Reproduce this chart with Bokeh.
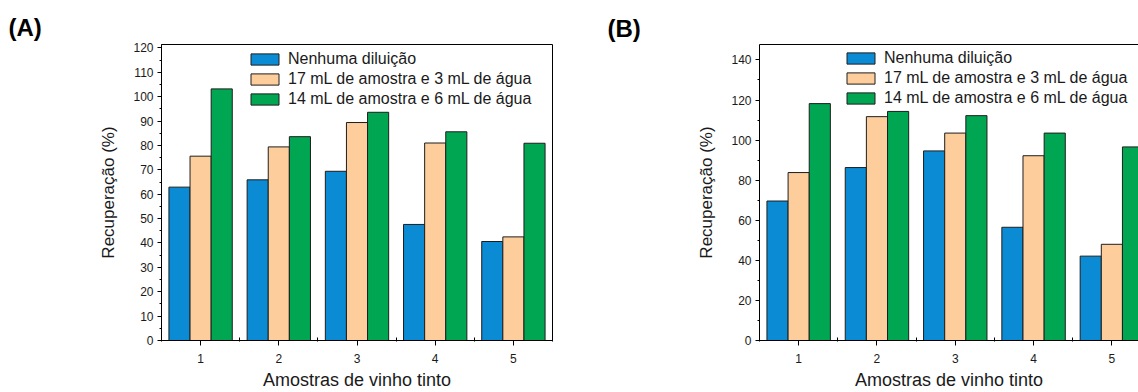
from bokeh.plotting import figure
from bokeh.layouts import row
from bokeh.models import FixedTicker, LinearAxis, Range1d
from bokeh.embed import file_html
from bokeh.resources import INLINE

# ---- data ----
samples = [1, 2, 3, 4, 5]
series_names = ["Nenhuma diluição",
                "17 mL de amostra e 3 mL de água",
                "14 mL de amostra e 6 mL de água"]
colors = ["#0A8BD3", "#FDCD9B", "#00A651"]

a_none = [62.9, 65.9, 69.4, 47.6, 40.6]
a_17 = [75.6, 79.4, 89.4, 81.0, 42.5]
a_14 = [103.2, 83.6, 93.6, 85.6, 80.9]

b_none = [69.6, 86.3, 94.6, 56.5, 42.1]
b_17 = [83.8, 111.7, 103.5, 92.2, 48.0]
b_14 = [118.2, 114.3, 112.2, 103.5, 96.6]

a_yticks = list(range(0, 121, 10))
a_yminor = list(range(0, 121, 5))
b_yticks = list(range(0, 141, 20))
b_yminor = list(range(0, 141, 10))
x_minor = [0.5, 1.5, 2.5, 3.5, 4.5, 5.5]

FONT = "Liberation Sans"
OFFS = [-0.27, 0.0, 0.27]
BW = 0.27


def panel(letter, series, y_end, yt, ymin, x_end, width, bl, br, bt, bb,
          leg_loc, title_off, title_standoff, full_box):
    p = figure(width=width, height=392, output_backend="svg",
               toolbar_location=None,
               x_range=Range1d(0.5, x_end), y_range=Range1d(0, y_end),
               min_border_left=bl, min_border_right=br,
               min_border_top=bt, min_border_bottom=bb)
    p.title.text = letter
    p.title.align = "left"
    p.title.offset = title_off
    p.title.standoff = title_standoff
    p.title.text_font = FONT
    p.title.text_font_size = "24px"
    p.title.text_font_style = "bold"
    p.title.text_color = "black"
    p.xgrid.visible = False
    p.ygrid.visible = False
    p.background_fill_color = "white"
    p.border_fill_color = "white"
    for vals, name, col, off in zip(series, series_names, colors, OFFS):
        xs = [s + off for s in samples]
        p.vbar(x=xs, top=vals, width=BW, bottom=0, fill_color=col,
               line_color="#1e1e1e", line_width=1, legend_label=name)
    p.xaxis.ticker = FixedTicker(ticks=samples, minor_ticks=x_minor)
    p.yaxis.ticker = FixedTicker(ticks=yt, minor_ticks=ymin)
    for ax in (p.xaxis, p.yaxis):
        ax.axis_line_color = "black"
        ax.axis_line_width = 1
        ax.major_tick_line_color = "black"
        ax.minor_tick_line_color = "black"
        ax.major_tick_in = 0
        ax.major_label_text_font = FONT
        ax.major_label_text_font_size = "12px"
        ax.major_label_text_color = "#1a1a1a"
        ax.axis_label_text_font = FONT
        ax.axis_label_text_font_style = "normal"
        ax.axis_label_text_color = "#1a1a1a"
    p.yaxis.major_tick_out = 4
    p.yaxis.minor_tick_out = 2
    p.yaxis.minor_tick_in = 0
    p.xaxis.major_tick_out = 5
    p.xaxis.minor_tick_in = 3
    p.xaxis.minor_tick_out = 1
    p.yaxis.axis_label = "Recuperação (%)"
    p.xaxis.axis_label = "Amostras de vinho tinto"
    p.yaxis.axis_label_text_font_size = "17px"
    p.xaxis.axis_label_text_font_size = "18px"
    p.yaxis.major_label_standoff = 4
    p.yaxis.axis_label_standoff = 12
    p.xaxis.major_label_standoff = 8
    p.xaxis.axis_label_standoff = 4
    if full_box:
        p.outline_line_color = "black"
        p.outline_line_width = 1
        p.outline_line_alpha = 1
    else:
        p.outline_line_color = None
        top = LinearAxis(major_tick_line_color=None, minor_tick_line_color=None,
                         major_label_text_font_size="0px",
                         axis_line_color="black")
        top.ticker = FixedTicker(ticks=[])
        p.add_layout(top, "above")
    lg = p.legend[0]
    lg.location = leg_loc
    lg.border_line_color = None
    lg.background_fill_alpha = 0
    lg.padding = 0
    lg.margin = 0
    lg.spacing = 0
    lg.glyph_width = 35
    lg.glyph_height = 14
    lg.label_height = 20
    lg.label_standoff = 6
    lg.label_text_font = FONT
    lg.label_text_font_size = "16px"
    lg.label_text_color = "#1a1a1a"
    return p


pA = panel("(A)", [a_none, a_17, a_14], 121.4, a_yticks, a_yminor, 5.5,
           569, 161, 17, 44, 49, (86, 231), -153, 8, True)
pB = panel("(B)", [b_none, b_17, b_14], 147.7, b_yticks, b_yminor, 5.34,
           569, 190, 0, 39, 52, (84, 232), -152, 5, False)

layout = row(pA, pB)
open("out.html", "w").write(file_html(layout, INLINE))
